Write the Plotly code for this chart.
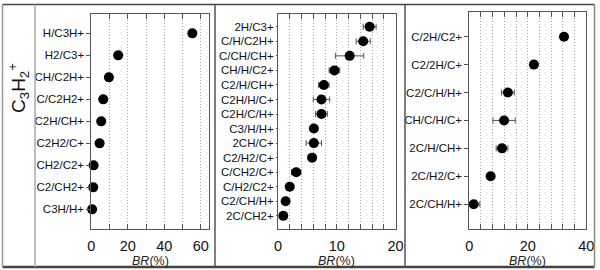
import plotly.graph_objects as go

W, H = 600, 270

# ---------------- data ----------------
p1_labels = ["H/C3H+", "H2/C3+", "CH/C2H+", "C/C2H2+", "C2H/CH+", "C2H2/C+",
             "CH2/C2+", "C2/CH2+", "C3H/H+"]
p1_values = [55.4, 14.7, 9.6, 6.5, 5.4, 4.5, 1.2, 1.0, 0.4]
p1_errors = [1.5, 0.6, 0.6, 0.5, 0.5, 0.5, 0.3, 0.3, 0.2]

p2_labels = ["2H/C3+", "C/H/C2H+", "C/CH/CH+", "CH/H/C2+", "C2/H/CH+", "C2H/H/C+",
             "C2H/C/H+", "C3/H/H+", "2CH/C+", "C2/H2/C+", "C/CH2/C+", "C/H2/C2+",
             "C2/CH/H+", "2C/CH2+"]
p2_values = [15.6, 14.5, 12.2, 9.6, 7.8, 7.4, 7.4, 6.1, 6.1, 5.8, 3.1, 2.0, 1.3, 0.9]
p2_errors = [1.1, 1.2, 2.4, 0.9, 0.9, 1.4, 1.0, 0.4, 1.3, 0.4, 0.8, 0.4, 0.3, 0.3]

p3_labels = ["C/2H/C2+", "C2/2H/C+", "C2/C/H/H+", "CH/C/H/C+", "2C/H/CH+",
             "2C/H2/C+", "2C/CH/H+"]
p3_values = [32.4, 22.1, 13.2, 11.9, 11.2, 7.3, 1.5]
p3_errors = [1.0, 0.8, 2.2, 3.8, 2.0, 1.2, 2.1]

p1_xticks = [0, 10, 20, 30, 40, 50, 60]
p1_xtext = ["0", " ", "20", " ", "40", " ", "60"]
p2_xticks = [0, 2, 4, 6, 8, 10, 12, 14, 16, 18, 20]
p2_xtext = ["0", " ", " ", " ", " ", "10", " ", " ", " ", " ", "20"]
p3_xticks = [0, 4, 8, 12, 16, 20, 24, 28, 32, 36, 40]
p3_xtext = ["0", " ", " ", " ", " ", "20", " ", " ", " ", " ", "40"]

side_label = "C<sub>3</sub>H<sub>2</sub><sup>+</sup>"
axis_title = "<i>BR</i>(%)"

# ---------------- layout geometry (pixels) ----------------
panels = [
    dict(labels=p1_labels, values=p1_values, errors=p1_errors, xr=[0, 64.4],
         xt=p1_xticks, xtt=p1_xtext, x0=91.4, x1=208.7, top=14.2, tl=4),
    dict(labels=p2_labels, values=p2_values, errors=p2_errors, xr=[0, 20],
         xt=p2_xticks, xtt=p2_xtext, x0=278.0, x1=395.5, top=14.1, tl=1),
    dict(labels=p3_labels, values=p3_values, errors=p3_errors, xr=[0, 40],
         xt=p3_xticks, xtt=p3_xtext, x0=469.3, x1=586.2, top=12.4, tl=4),
]
BOTTOM = 228.5
PAD = 0.87

def px(x):
    return x / W

def py(y):
    return 1 - y / H

fig = go.Figure()
layout = dict(
    width=W, height=H, margin=dict(l=0, r=0, t=0, b=0),
    paper_bgcolor="white", plot_bgcolor="white", showlegend=False,
    font=dict(family="Liberation Sans, Arial, sans-serif", color="#111"),
)
annotations = []
ax_line = "#555"

for i, p in enumerate(panels, start=1):
    n = len(p["labels"])
    idx = list(range(n))
    xa = "x" if i == 1 else f"x{i}"
    ya = "y" if i == 1 else f"y{i}"
    fig.add_trace(go.Scatter(
        x=p["values"], y=idx, mode="markers", xaxis=xa, yaxis=ya,
        marker=dict(color="black", size=10),
        error_x=dict(type="data", array=p["errors"], color="#555",
                     thickness=1, width=3),
        cliponaxis=False, hoverinfo="skip",
    ))
    yrange = [n - 1 + PAD, -PAD]
    xdom = [px(p["x0"]), px(p["x1"])]
    ydom = [py(BOTTOM), py(p["top"])]
    layout[f"xaxis{'' if i == 1 else i}"] = dict(
        domain=xdom, range=p["xr"], anchor=ya, tickmode="array",
        tickvals=p["xt"], ticktext=p["xtt"], ticks="inside", ticklen=5,
        tickcolor=ax_line, mirror="allticks", showline=True, linecolor=ax_line,
        linewidth=1, showgrid=True, gridcolor="#a8a8a8", griddash="1px,2px",
        gridwidth=1, zeroline=False, tickfont=dict(size=14.5, color="#111"),
        tickangle=0, ticklabelstandoff=4, automargin=False, fixedrange=True,
    )
    layout[f"yaxis{'' if i == 1 else i}"] = dict(
        domain=ydom, range=yrange, anchor=xa, tickmode="array",
        tickvals=idx, ticktext=p["labels"], ticks="outside", ticklen=p["tl"],
        tickcolor=ax_line, showline=True, mirror=True, linecolor=ax_line,
        linewidth=1, showgrid=False, zeroline=False,
        tickfont=dict(size=11.5, color="#111"), automargin=False,
        fixedrange=True,
    )
    # inside ticks on the left and right edges
    for k, side in ((i + 3, "left"), (i + 6, "right")):
        layout[f"yaxis{k}"] = dict(
            overlaying=ya, anchor=xa, side=side, range=yrange,
            tickmode="array", tickvals=idx,
            ticks="inside", ticklen=6, tickcolor=ax_line, showline=False,
            showgrid=False, zeroline=False, showticklabels=False,
            automargin=False, fixedrange=True,
        )
    annotations.append(dict(
        text=axis_title, x=px((p["x0"] + p["x1"]) / 2), y=py(261),
        xref="paper", yref="paper", showarrow=False, xanchor="center",
        yanchor="middle", font=dict(size=12.5, color="#222"),
    ))

annotations.append(dict(
    text=side_label, x=px(18), y=py(88), xref="paper", yref="paper",
    showarrow=False, textangle=-90, xanchor="center", yanchor="middle",
    font=dict(size=19, color="#111"),
))

frame = "#555"
shapes = [
    dict(type="line", xref="paper", yref="paper", x0=px(2.5), x1=px(594.5),
         y0=py(4.5), y1=py(4.5), line=dict(color="#444", width=1.5)),
    dict(type="line", xref="paper", yref="paper", x0=px(2.5), x1=px(594.5),
         y0=py(267), y1=py(267), line=dict(color="#444", width=2.5)),
    dict(type="line", xref="paper", yref="paper", x0=px(2.5), x1=px(2.5),
         y0=py(4.5), y1=py(267), line=dict(color="#999", width=1.5)),
    dict(type="line", xref="paper", yref="paper", x0=px(35), x1=px(35),
         y0=py(4.5), y1=py(267), line=dict(color="#aaa", width=1.5)),
    dict(type="line", xref="paper", yref="paper", x0=px(215), x1=px(215),
         y0=py(4.5), y1=py(267), line=dict(color=frame, width=1.5)),
    dict(type="line", xref="paper", yref="paper", x0=px(405), x1=px(405),
         y0=py(4.5), y1=py(267), line=dict(color=frame, width=1.5)),
    dict(type="line", xref="paper", yref="paper", x0=px(594.5), x1=px(594.5),
         y0=py(4.5), y1=py(267), line=dict(color="#888", width=1.5)),
]

layout["annotations"] = annotations
layout["shapes"] = shapes
fig.update_layout(**layout)
fig.write_html("out.html", config={"displayModeBar": False},
               post_script="document.body.style.margin='0';"
                           "document.body.style.overflow='hidden';")
